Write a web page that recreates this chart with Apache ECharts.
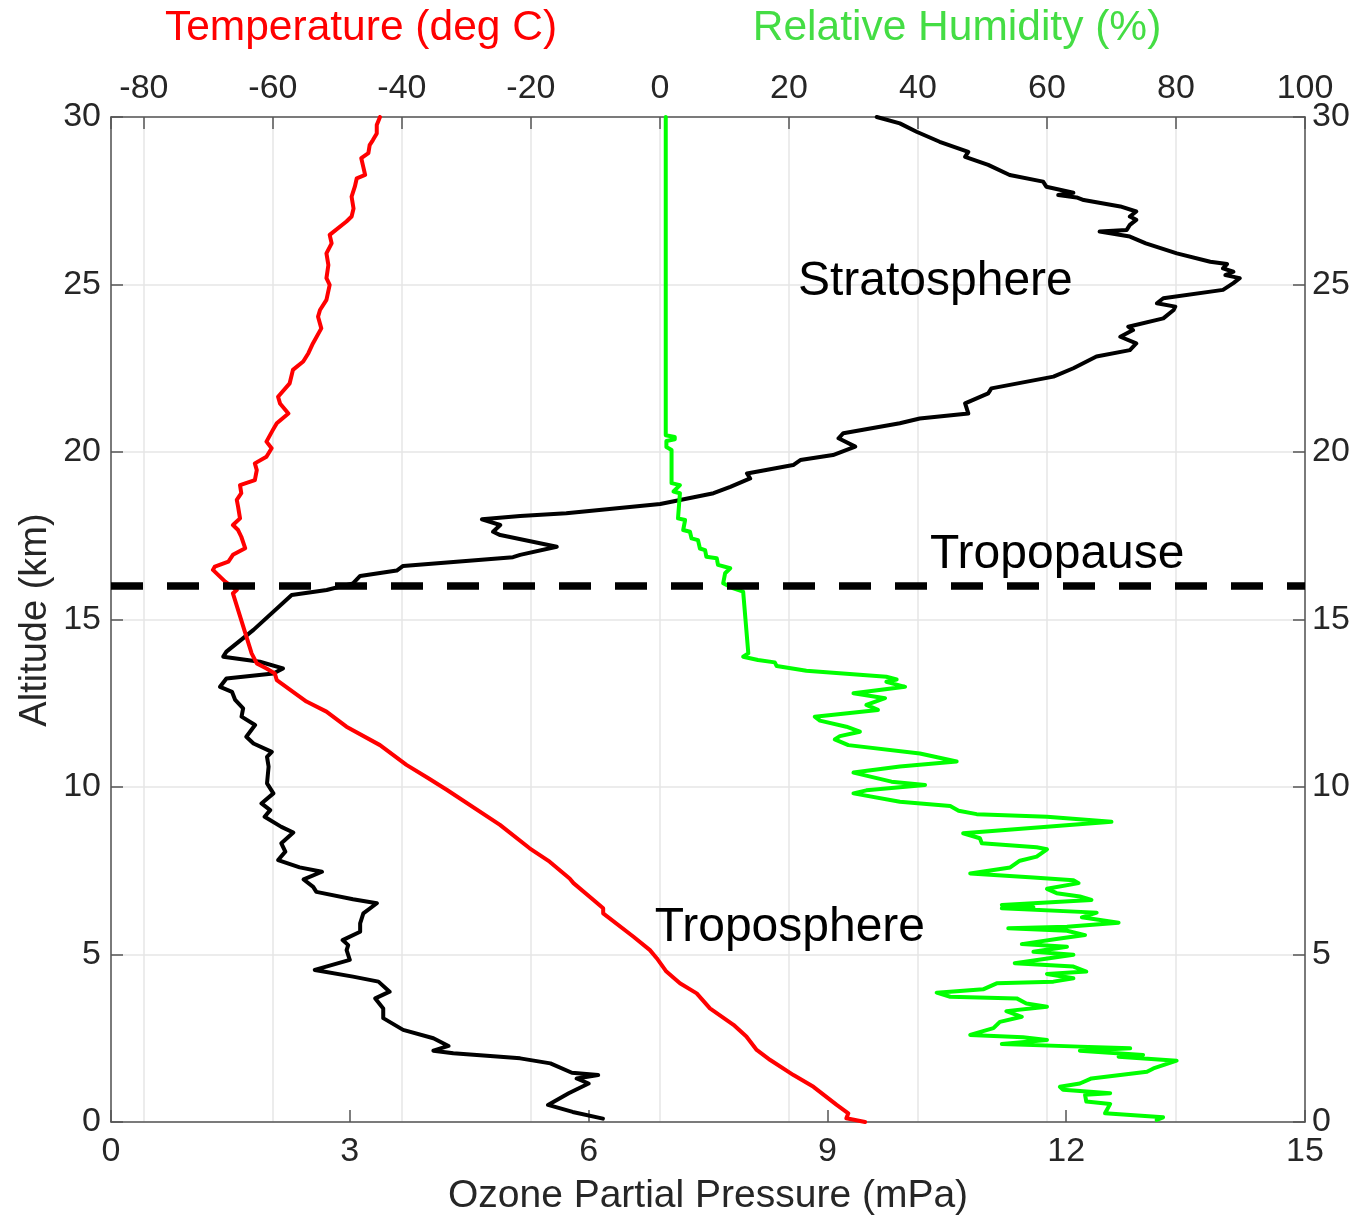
<!DOCTYPE html>
<html><head><meta charset="utf-8">
<script src="https://cdn.jsdelivr.net/npm/echarts@6/dist/echarts.min.js"></script>
<style>html,body{margin:0;padding:0;background:#fff}#c{width:1362px;height:1218px}</style>
</head><body><div id="c"></div>
<script>
// ---- Data (altitude in km) ----
const ozoneAlt = [0.10,0.30,0.51,0.86,1.15,1.30,1.40,1.47,1.75,1.90,1.95,2.05,2.13,2.27,2.50,2.75,3.10,3.39,3.69,3.89,4.19,4.34,4.54,4.84,5.13,5.28,5.43,5.68,5.93,6.23,6.53,6.65,6.87,7.02,7.24,7.47,7.60,7.82,8.07,8.32,8.64,8.81,9.11,9.31,9.51,9.81,10.11,10.61,10.90,11.05,11.30,11.50,11.85,12.10,12.35,12.60,12.84,12.99,13.24,13.39,13.54,13.74,13.89,14.04,14.69,15.73,15.88,16.08,16.30,16.46,16.60,16.86,16.93,17.17,17.52,17.62,17.82,17.99,18.09,18.17,18.45,18.77,18.96,19.21,19.36,19.61,19.76,19.91,20.16,20.41,20.56,20.86,21.00,21.15,21.45,21.75,21.90,22.25,22.50,22.85,23.04,23.24,23.44,23.64,23.74,23.99,24.24,24.34,24.44,24.59,24.84,25.04,25.19,25.28,25.38,25.48,25.61,25.68,25.93,26.23,26.43,26.58,26.63,26.78,26.93,27.03,27.18,27.33,27.52,27.60,27.67,27.74,27.92,28.07,28.27,28.57,28.81,28.96,29.26,29.56,29.81,30.00];
const ozoneVal = [6.18,5.80,5.49,5.75,6.00,5.85,6.12,5.79,5.52,5.14,4.89,4.30,4.05,4.24,4.05,3.67,3.42,3.42,3.32,3.50,3.36,3.04,2.56,3.00,2.96,2.98,2.91,3.13,3.13,3.17,3.34,3.04,2.58,2.54,2.42,2.65,2.37,2.10,2.19,2.14,2.29,2.14,1.93,2.00,1.89,2.04,1.96,1.98,1.96,2.02,1.79,1.70,1.81,1.64,1.66,1.56,1.52,1.37,1.45,2.04,2.16,1.87,1.41,1.45,1.79,2.27,2.71,3.04,3.13,3.59,3.67,5.05,5.14,5.60,4.89,4.80,4.89,4.66,5.14,5.72,6.90,7.57,7.78,8.03,7.99,8.57,8.66,9.07,9.35,9.14,9.20,9.91,10.16,10.77,10.73,11.02,11.06,11.84,12.09,12.38,12.80,12.88,12.68,12.84,12.78,13.22,13.35,13.37,13.14,13.22,13.97,14.10,14.18,14.00,14.10,13.97,14.02,13.81,13.39,13.00,12.80,12.42,12.76,12.80,12.88,12.80,12.88,12.68,12.22,12.13,11.90,12.09,11.75,11.71,11.29,11.02,10.73,10.77,10.41,10.12,9.91,9.62];

const tempAlt = [0.00,0.11,0.26,0.51,1.05,1.40,1.85,2.15,2.55,2.90,3.39,3.84,4.14,4.49,4.89,5.13,5.53,6.23,6.38,6.63,7.13,7.27,7.77,8.17,8.87,9.91,10.26,10.66,11.25,11.80,12.25,12.55,13.19,13.39,13.54,13.69,13.99,15.78,15.88,16.13,16.48,16.58,16.73,16.93,17.13,17.47,17.67,17.82,18.02,18.37,18.57,18.77,19.01,19.16,19.46,19.66,19.86,20.11,20.31,20.66,20.86,21.15,21.45,21.65,22.05,22.45,22.70,22.95,23.24,23.69,24.04,24.24,24.54,24.99,25.19,25.58,25.93,26.23,26.48,26.88,27.03,27.27,27.62,27.92,28.17,28.27,28.52,28.77,28.92,29.16,29.31,29.51,29.76,30.00];
const tempVal = [31.8,28.9,29.2,27.4,23.8,20.7,17.1,15.0,13.4,11.4,7.75,5.7,3.1,1.0,-0.5,-1.55,-4.1,-8.8,-8.8,-10.3,-13.4,-14.0,-17.1,-20.2,-24.8,-33.0,-35.9,-39.3,-43.4,-48.6,-51.7,-54.8,-59.4,-59.7,-61.0,-62.5,-63.3,-66.2,-65.6,-67.4,-69.3,-69.0,-66.9,-66.2,-64.3,-64.9,-65.4,-66.2,-65.1,-65.4,-65.6,-64.9,-65.1,-62.8,-62.5,-62.8,-61.0,-60.2,-61.0,-60.0,-59.4,-57.6,-58.9,-59.2,-57.4,-56.9,-55.3,-54.5,-53.8,-52.5,-53.0,-52.7,-51.7,-51.2,-51.7,-51.4,-51.7,-50.9,-51.2,-48.6,-47.8,-47.5,-47.8,-47.3,-47.0,-45.7,-46.0,-46.3,-45.2,-45.0,-44.5,-43.9,-43.9,-43.4];

const rhAlt = [0.06,0.14,0.26,0.54,0.61,0.81,0.86,0.96,1.05,1.15,1.30,1.50,1.60,1.83,1.95,2.00,2.13,2.20,2.25,2.33,2.45,2.53,2.60,2.80,2.99,3.14,3.31,3.44,3.54,3.69,3.74,3.86,3.96,4.14,4.19,4.29,4.42,4.49,4.64,4.74,4.99,5.08,5.23,5.31,5.48,5.58,5.71,5.78,5.83,5.95,6.11,6.25,6.38,6.41,6.48,6.63,6.73,6.83,6.96,7.13,7.22,7.30,7.42,7.60,7.80,7.92,8.14,8.20,8.32,8.47,8.62,8.81,8.96,9.11,9.19,9.29,9.43,9.56,9.81,9.90,10.06,10.16,10.43,10.61,10.76,11.00,11.25,11.42,11.52,11.65,11.80,11.98,12.10,12.30,12.45,12.65,12.80,12.99,13.14,13.21,13.29,13.47,13.61,13.72,13.79,13.89,13.99,15.83,15.93,16.08,16.38,16.53,16.63,16.83,16.87,17.07,17.12,17.37,17.42,17.62,17.67,17.97,18.02,18.77,18.82,19.01,19.07,20.06,20.15,20.33,20.38,20.45,20.50,30.00];
const rhVal = [77.0,78.0,69.0,69.8,66.1,65.9,69.8,62.5,62.0,65.1,66.9,75.5,76.5,80.1,71.1,74.9,65.1,72.9,65.1,53.0,60.0,56.3,48.1,51.7,52.7,56.1,53.7,60.0,56.8,55.3,45.0,42.9,50.1,52.2,61.0,64.1,60.0,66.1,64.1,55.0,64.1,57.9,63.1,56.1,62.0,65.9,63.1,54.0,63.1,71.1,65.4,67.7,53.0,57.9,53.0,66.9,65.1,61.5,60.0,64.9,64.1,57.9,48.1,54.3,55.8,58.4,60.0,58.4,49.9,49.6,47.0,60.0,70.0,60.0,49.1,46.3,45.0,37.2,30.0,32.0,41.1,35.9,30.0,37.2,46.0,40.3,29.2,27.1,27.9,31.0,28.9,24.8,24.0,33.8,32.0,34.9,30.0,38.0,35.1,36.7,35.1,22.7,18.1,17.8,15.2,12.9,13.7,12.9,11.4,9.8,10.1,10.9,9.0,8.8,7.2,7.0,6.2,5.9,4.9,4.65,3.6,3.9,2.8,3.1,2.1,3.1,1.8,1.8,1.0,1.0,2.3,2.3,0.9,0.9];

const tropopauseAlt = 16;
const bottomTicks = [0, 3, 6, 9, 12, 15];
const topTicks = [-80, -60, -40, -20, 0, 20, 40, 60, 80, 100];
const altTicks = [0, 5, 10, 15, 20, 25, 30];
const annotations = [
  {text: 'Stratosphere', oz: 8.63, alt: 25.07},
  {text: 'Tropopause', oz: 10.29, alt: 16.93},
  {text: 'Troposphere', oz: 6.83, alt: 5.79}
];

// ---- Chart ----
const FONT = '"Liberation Sans", Arial, Helvetica, sans-serif';
const pairs = (xs, ys) => xs.map((x, i) => [x, ys[i]]);
const chart = echarts.init(document.getElementById('c'), null, {renderer: 'canvas'});
const axisCol = '#555555';
const gridCol = '#e6e6e6';
const lblCol = '#262626';
const TICK_FS = 34;

const option = {
  animation: false,
  backgroundColor: '#ffffff',
  grid: {left: 111, top: 117, right: 57, bottom: 96, containLabel: false},
  xAxis: [
    {type: 'value', position: 'bottom', min: bottomTicks[0], max: bottomTicks[bottomTicks.length - 1], interval: 3,
     axisLine: {show: true, onZero: false, lineStyle: {color: axisCol, width: 1.5}},
     axisTick: {show: true, inside: true, length: 12, lineStyle: {color: axisCol, width: 1.5}},
     axisLabel: {fontSize: TICK_FS, color: lblCol, margin: 13, fontFamily: FONT},
     splitLine: {show: false}},
    {type: 'value', position: 'top', min: -85.1, max: 100, splitNumber: 9,
     axisLine: {show: true, onZero: false, lineStyle: {color: axisCol, width: 1.5}},
     axisTick: {show: true, inside: true, length: 12, lineStyle: {color: axisCol, width: 1.5}},
     axisLabel: {fontSize: TICK_FS, color: lblCol, margin: 11, fontFamily: FONT,
       formatter: v => topTicks.some(t => Math.abs(t - v) < 1e-6) ? String(Math.round(v)) : ''},
     splitLine: {show: true, lineStyle: {color: gridCol, width: 1.5}}}
  ],
  yAxis: [
    {type: 'value', position: 'left', min: altTicks[0], max: altTicks[altTicks.length - 1], interval: 5,
     axisLine: {show: true, onZero: false, lineStyle: {color: axisCol, width: 1.5}},
     axisTick: {show: true, inside: true, length: 12, lineStyle: {color: axisCol, width: 1.5}},
     axisLabel: {fontSize: TICK_FS, color: lblCol, margin: 10, fontFamily: FONT},
     splitLine: {show: true, lineStyle: {color: gridCol, width: 1.5}}},
    {type: 'value', position: 'right', min: altTicks[0], max: altTicks[altTicks.length - 1], interval: 5,
     axisLine: {show: true, onZero: false, lineStyle: {color: axisCol, width: 1.5}},
     axisTick: {show: true, inside: true, length: 12, lineStyle: {color: axisCol, width: 1.5}},
     axisLabel: {fontSize: TICK_FS, color: lblCol, margin: 7, fontFamily: FONT},
     splitLine: {show: false}}
  ],
  series: [
    {name: 'Ozone', type: 'line', xAxisIndex: 0, yAxisIndex: 0, data: pairs(ozoneVal, ozoneAlt),
     showSymbol: false, symbol: 'none', silent: true, z: 3,
     lineStyle: {color: '#000000', width: 4, join: 'round', cap: 'round'}, itemStyle: {color: '#000000'}},
    {name: 'Temperature', type: 'line', xAxisIndex: 1, yAxisIndex: 0, data: pairs(tempVal, tempAlt),
     showSymbol: false, symbol: 'none', silent: true, z: 4,
     lineStyle: {color: '#ff0000', width: 4, join: 'round', cap: 'round'}, itemStyle: {color: '#ff0000'}},
    {name: 'RH', type: 'line', xAxisIndex: 1, yAxisIndex: 0, data: pairs(rhVal, rhAlt),
     showSymbol: false, symbol: 'none', silent: true, z: 4,
     lineStyle: {color: '#00ff00', width: 4, join: 'round', cap: 'round'}, itemStyle: {color: '#00ff00'}},
    {name: 'Tropopause', type: 'line', xAxisIndex: 0, yAxisIndex: 0,
     data: [[bottomTicks[0], tropopauseAlt], [bottomTicks[bottomTicks.length - 1], tropopauseAlt]],
     showSymbol: false, symbol: 'none', silent: true, z: 5, clip: false,
     lineStyle: {color: '#000000', width: 7.5, type: [32, 24]}, itemStyle: {color: '#000000'}}
  ]
};
chart.setOption(option);

const graphics = [
  {type: 'text', x: 361, y: 28, style: {text: 'Temperature (deg C)', fill: '#ff0000', fontSize: 42.5, fontFamily: FONT, align: 'center', verticalAlign: 'middle'}},
  {type: 'text', x: 957, y: 28, style: {text: 'Relative Humidity (%)', fill: '#44dd44', fontSize: 42.5, fontFamily: FONT, align: 'center', verticalAlign: 'middle'}},
  {type: 'text', x: 708, y: 1196, style: {text: 'Ozone Partial Pressure (mPa)', fill: lblCol, fontSize: 39, fontFamily: FONT, align: 'center', verticalAlign: 'middle'}},
  {type: 'text', x: 36, y: 620, rotation: Math.PI / 2, style: {text: 'Altitude (km)', fill: lblCol, fontSize: 38, fontFamily: FONT, align: 'center', verticalAlign: 'middle'}}
];
annotations.forEach(a => {
  const p = chart.convertToPixel({xAxisIndex: 0, yAxisIndex: 0}, [a.oz, a.alt]);
  graphics.push({type: 'text', x: p[0], y: p[1], z: 10,
    style: {text: a.text, fill: '#000000', fontSize: 48, fontFamily: FONT, align: 'left', verticalAlign: 'middle'}});
});
chart.setOption({graphic: graphics});
</script>
</body></html>
